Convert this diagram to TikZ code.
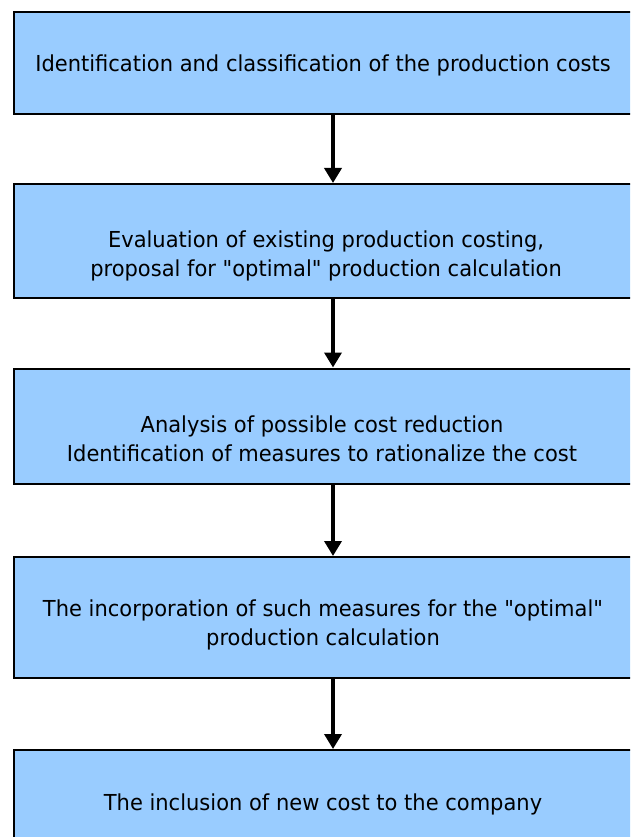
\documentclass[tikz,border=0pt]{standalone}
\usepackage{fontspec}
\setmainfont{DejaVu Sans}[FakeStretch=0.955,Ligatures=TeXOff]
\usetikzlibrary{arrows.meta,calc}
\definecolor{boxblue}{HTML}{99CCFF}
\begin{document}
\begin{tikzpicture}[x=1pt,y=-1pt,
  stepbox/.style={draw=black,line width=2.2pt,fill=boxblue,rectangle,inner sep=0pt,anchor=north west},
  steptext/.style={align=center,font=\fontsize{22}{29}\selectfont,inner sep=0pt,anchor=center},
  arr/.style={line width=3.6pt,-{Triangle[width=17pt,length=15pt]}}]
\useasboundingbox (0,0) rectangle (630,837);
\clip (0,0) rectangle (630,837);
\node[stepbox,minimum width=623pt,minimum height=102pt] (b1) at (13,11) {};
\node[stepbox,minimum width=623pt,minimum height=113.5pt] (b2) at (13,183) {};
\node[stepbox,minimum width=623pt,minimum height=115.5pt] (b3) at (13,367.5) {};
\node[stepbox,minimum width=623pt,minimum height=121pt] (b4) at (13,556) {};
\node[stepbox,minimum width=623pt,minimum height=120pt] (b5) at (13,749) {};
\node[steptext] (t1) at (323,65) {Identification and classification of the production costs};
\node[steptext] (t2) at (326,256) {Evaluation of existing production costing,\\proposal for "optimal" production calculation};
\node[steptext] (t3) at (322,439) {Analysis of possible cost reduction\\Identification of measures to rationalize the cost};
\node[steptext] (t4) at (323,625) {The incorporation of such measures for the "optimal"\\production calculation};
\node[steptext] (t5) at (323,804) {The inclusion of new cost to the company};
\coordinate (ax) at (333,0);
\draw[arr] (b1.south -| ax) -- (b2.north -| ax);
\draw[arr] (b2.south -| ax) -- (b3.north -| ax);
\draw[arr] (b3.south -| ax) -- (b4.north -| ax);
\draw[arr] (b4.south -| ax) -- (b5.north -| ax);
\end{tikzpicture}
\end{document}
